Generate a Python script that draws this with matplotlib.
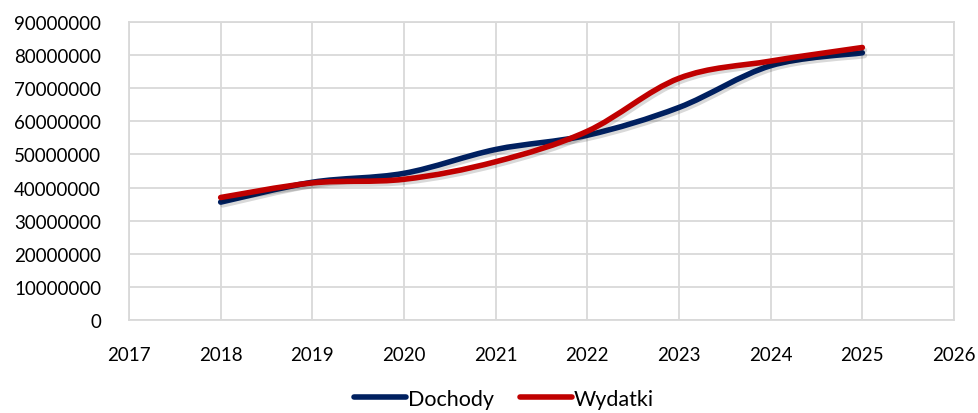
import numpy as np
import matplotlib.pyplot as plt
from matplotlib.path import Path
from matplotlib.patches import PathPatch
from matplotlib.lines import Line2D
import matplotlib.patheffects as pe

plt.rcParams['font.family'] = ['Lato', 'DejaVu Sans']

years = [2018, 2019, 2020, 2021, 2022, 2023, 2024, 2025]
dochody = [35.6e6, 41.6e6, 44.3e6, 51.5e6, 55.8e6, 64.2e6, 76.8e6, 80.7e6]
wydatki = [37.0e6, 41.4e6, 42.5e6, 47.8e6, 57.0e6, 73.0e6, 78.2e6, 82.3e6]
series_names = ["Dochody", "Wydatki"]
series_colors = ["#002060", "#C00000"]


def smooth_path(xs, ys):
    # excel-like smoothed line: bezier control points from neighbouring points
    pts = np.column_stack([xs, ys]).astype(float)
    n = len(pts)
    verts = [pts[0]]
    codes = [Path.MOVETO]
    for i in range(n - 1):
        p0 = pts[i - 1] if i > 0 else pts[i]
        p1 = pts[i]
        p2 = pts[i + 1]
        p3 = pts[i + 2] if i + 2 < n else pts[i + 1]
        c1 = p1 + (p2 - p0) / 6.0
        c2 = p2 - (p3 - p1) / 6.0
        verts += [c1, c2, p2]
        codes += [Path.CURVE4] * 3
    return Path(verts, codes)


fig = plt.figure(figsize=(9.79, 4.14), dpi=100)
ax = fig.add_axes([129 / 979, 1 - 321 / 414, (954 - 129) / 979, (321 - 23) / 414])

shadow = [pe.SimpleLineShadow(offset=(1.5, -2), shadow_color='k', alpha=0.15), pe.Normal()]
for vals, col in zip([dochody, wydatki], series_colors):
    patch = PathPatch(smooth_path(years, vals), fill=False, edgecolor=col, lw=4.0,
                      capstyle='round', joinstyle='round', transform=ax.transData,
                      path_effects=shadow, zorder=3)
    ax.add_patch(patch)

ax.set_xlim(2017, 2026)
ax.set_ylim(0, 90000000)
ax.set_xticks(range(2017, 2027))
ax.set_yticks(range(0, 90000001, 10000000))
ax.set_yticklabels([str(v) for v in range(0, 90000001, 10000000)])
ax.grid(True, color='#d9d9d9', lw=1.3)
ax.set_axisbelow(True)
for s in ax.spines.values():
    s.set_color('#d9d9d9')
    s.set_linewidth(1.3)
ax.tick_params(length=0, labelsize=13.5, colors='#000000')
ax.tick_params(axis='x', pad=19)
ax.tick_params(axis='y', pad=20)

handles = [Line2D([], [], color=c, lw=4.0, solid_capstyle='round') for c in series_colors]
fig.legend(handles, series_names, loc='center', bbox_to_anchor=(504 / 979, 1 - 400 / 414),
           ncol=2, frameon=False, fontsize=15.5, handlelength=2.4, handletextpad=0.1,
           columnspacing=1.2, borderpad=0.1)

fig.savefig('out.png', dpi=100)
